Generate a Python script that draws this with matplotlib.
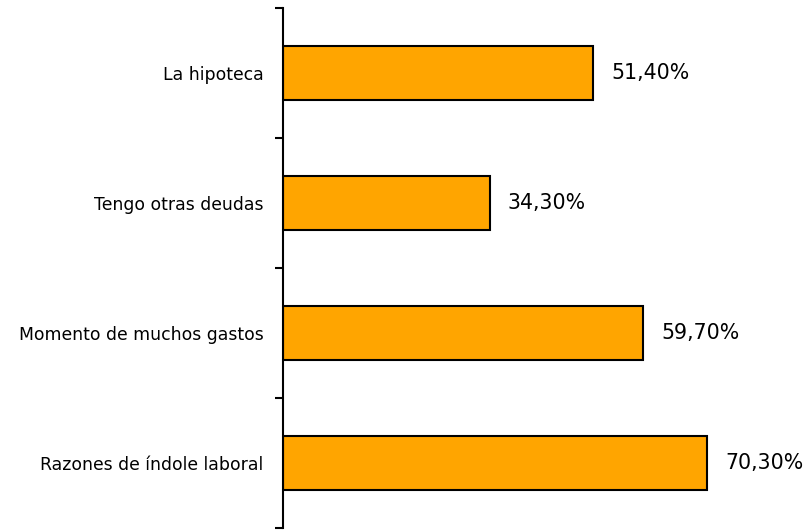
import matplotlib.pyplot as plt

categorias = ["Razones de índole laboral", "Momento de muchos gastos",
              "Tengo otras deudas", "La hipoteca"]
valores = [70.3, 59.7, 34.3, 51.4]
etiquetas = ["70,30%", "59,70%", "34,30%", "51,40%"]

plt.rcParams['font.family'] = ['DejaVu Sans']

fig = plt.figure(figsize=(8.06, 5.32), dpi=100)
ax = fig.add_axes([283/806, 4/532, (806-283)/806, 520/532])

y = range(len(categorias))
ax.barh(y, valores, height=0.41, color="#FFA500", edgecolor="black", linewidth=1.5)
for i, (v, t) in enumerate(zip(valores, etiquetas)):
    ax.text(v + 3.0, i, t, va="center", ha="left", fontsize=14.8)

ax.set_xlim(0, (806-283)/6.03)
ax.set_ylim(-0.5, 3.5)
ax.set_yticks([-0.5, 0.5, 1.5, 2.5, 3.5])
ax.set_yticklabels([])
ax.set_yticks(list(y), minor=True)
ax.set_yticklabels(categorias, minor=True, fontsize=12.4)
ax.tick_params(axis="y", which="minor", length=0, pad=14)
ax.tick_params(axis="y", which="major", length=6, width=1.5, direction="out")
for s in ["top", "right", "bottom"]:
    ax.spines[s].set_visible(False)
ax.spines["left"].set_linewidth(1.5)
ax.set_xticks([])

fig.savefig("out.png", dpi=100)
